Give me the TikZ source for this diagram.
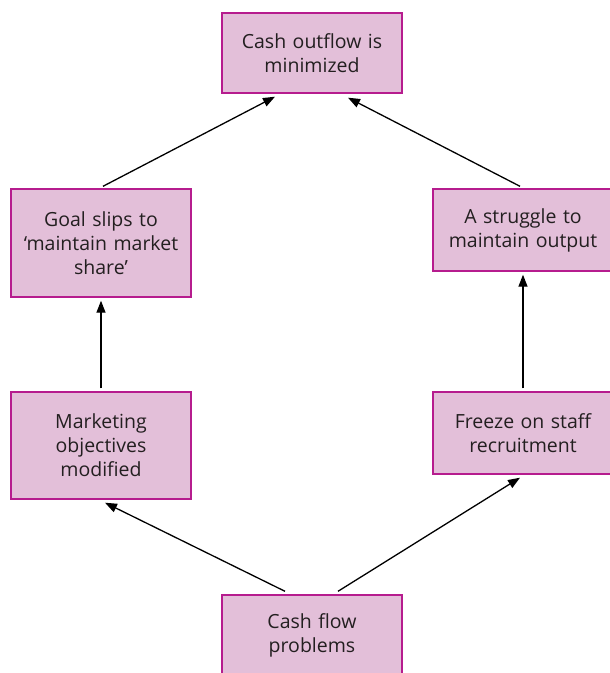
\documentclass[tikz,border=0pt]{standalone}
\usepackage{fontspec}
\setmainfont{Open Sans}
\usetikzlibrary{arrows.meta}
\definecolor{boxfill}{RGB}{227,191,217}
\definecolor{boxline}{RGB}{182,28,142}
\definecolor{txt}{RGB}{35,31,32}
\tikzset{
  pbox/.style={draw=boxline, fill=boxfill, line width=1.4pt, minimum width=180pt,
    text width=170pt, align=center, inner sep=0pt, text=txt,
    font=\fontsize{19.5pt}{24pt}\selectfont},
  conn/.style={line width=1.3pt, -{Triangle[length=12pt,width=9pt]}}
}
\begin{document}
\begin{tikzpicture}[x=1pt,y=-1pt]
\useasboundingbox (0,0) rectangle (610,673);
\node[pbox, minimum height=80pt] (top) at (312,53) {Cash outflow is\\minimized};
\node[pbox, minimum height=108pt] (lm) at (101,243) {Goal slips to\\‘maintain market\\share’};
\node[pbox, minimum height=82pt] (rm) at (523,230) {A struggle to\\maintain output};
\node[pbox, minimum height=107pt] (ll) at (101,445.5) {Marketing\\objectives\\modified};
\node[pbox, minimum height=82pt] (rl) at (523,433) {Freeze on staff\\recruitment};
\node[pbox, minimum height=80pt] (bot) at (312,635) {Cash flow\\problems};
\draw[conn] ([xshift=2pt,yshift=2pt]lm.north) -- ([xshift=-37pt,yshift=-3pt]top.south);
\draw[conn] ([xshift=-3pt,yshift=2pt]rm.north) -- ([xshift=36pt,yshift=-4pt]top.south);
\draw[conn] ([yshift=3pt]ll.north) -- ([yshift=-3pt]lm.south);
\draw[conn] ([yshift=3pt]rl.north) -- ([yshift=-3pt]rm.south);
\draw[conn] ([xshift=-27pt,yshift=3pt]bot.north) -- ([xshift=4pt,yshift=-3pt]ll.south);
\draw[conn] ([xshift=26pt,yshift=3pt]bot.north) -- ([xshift=-3pt,yshift=-3pt]rl.south);
\end{tikzpicture}
\end{document}
